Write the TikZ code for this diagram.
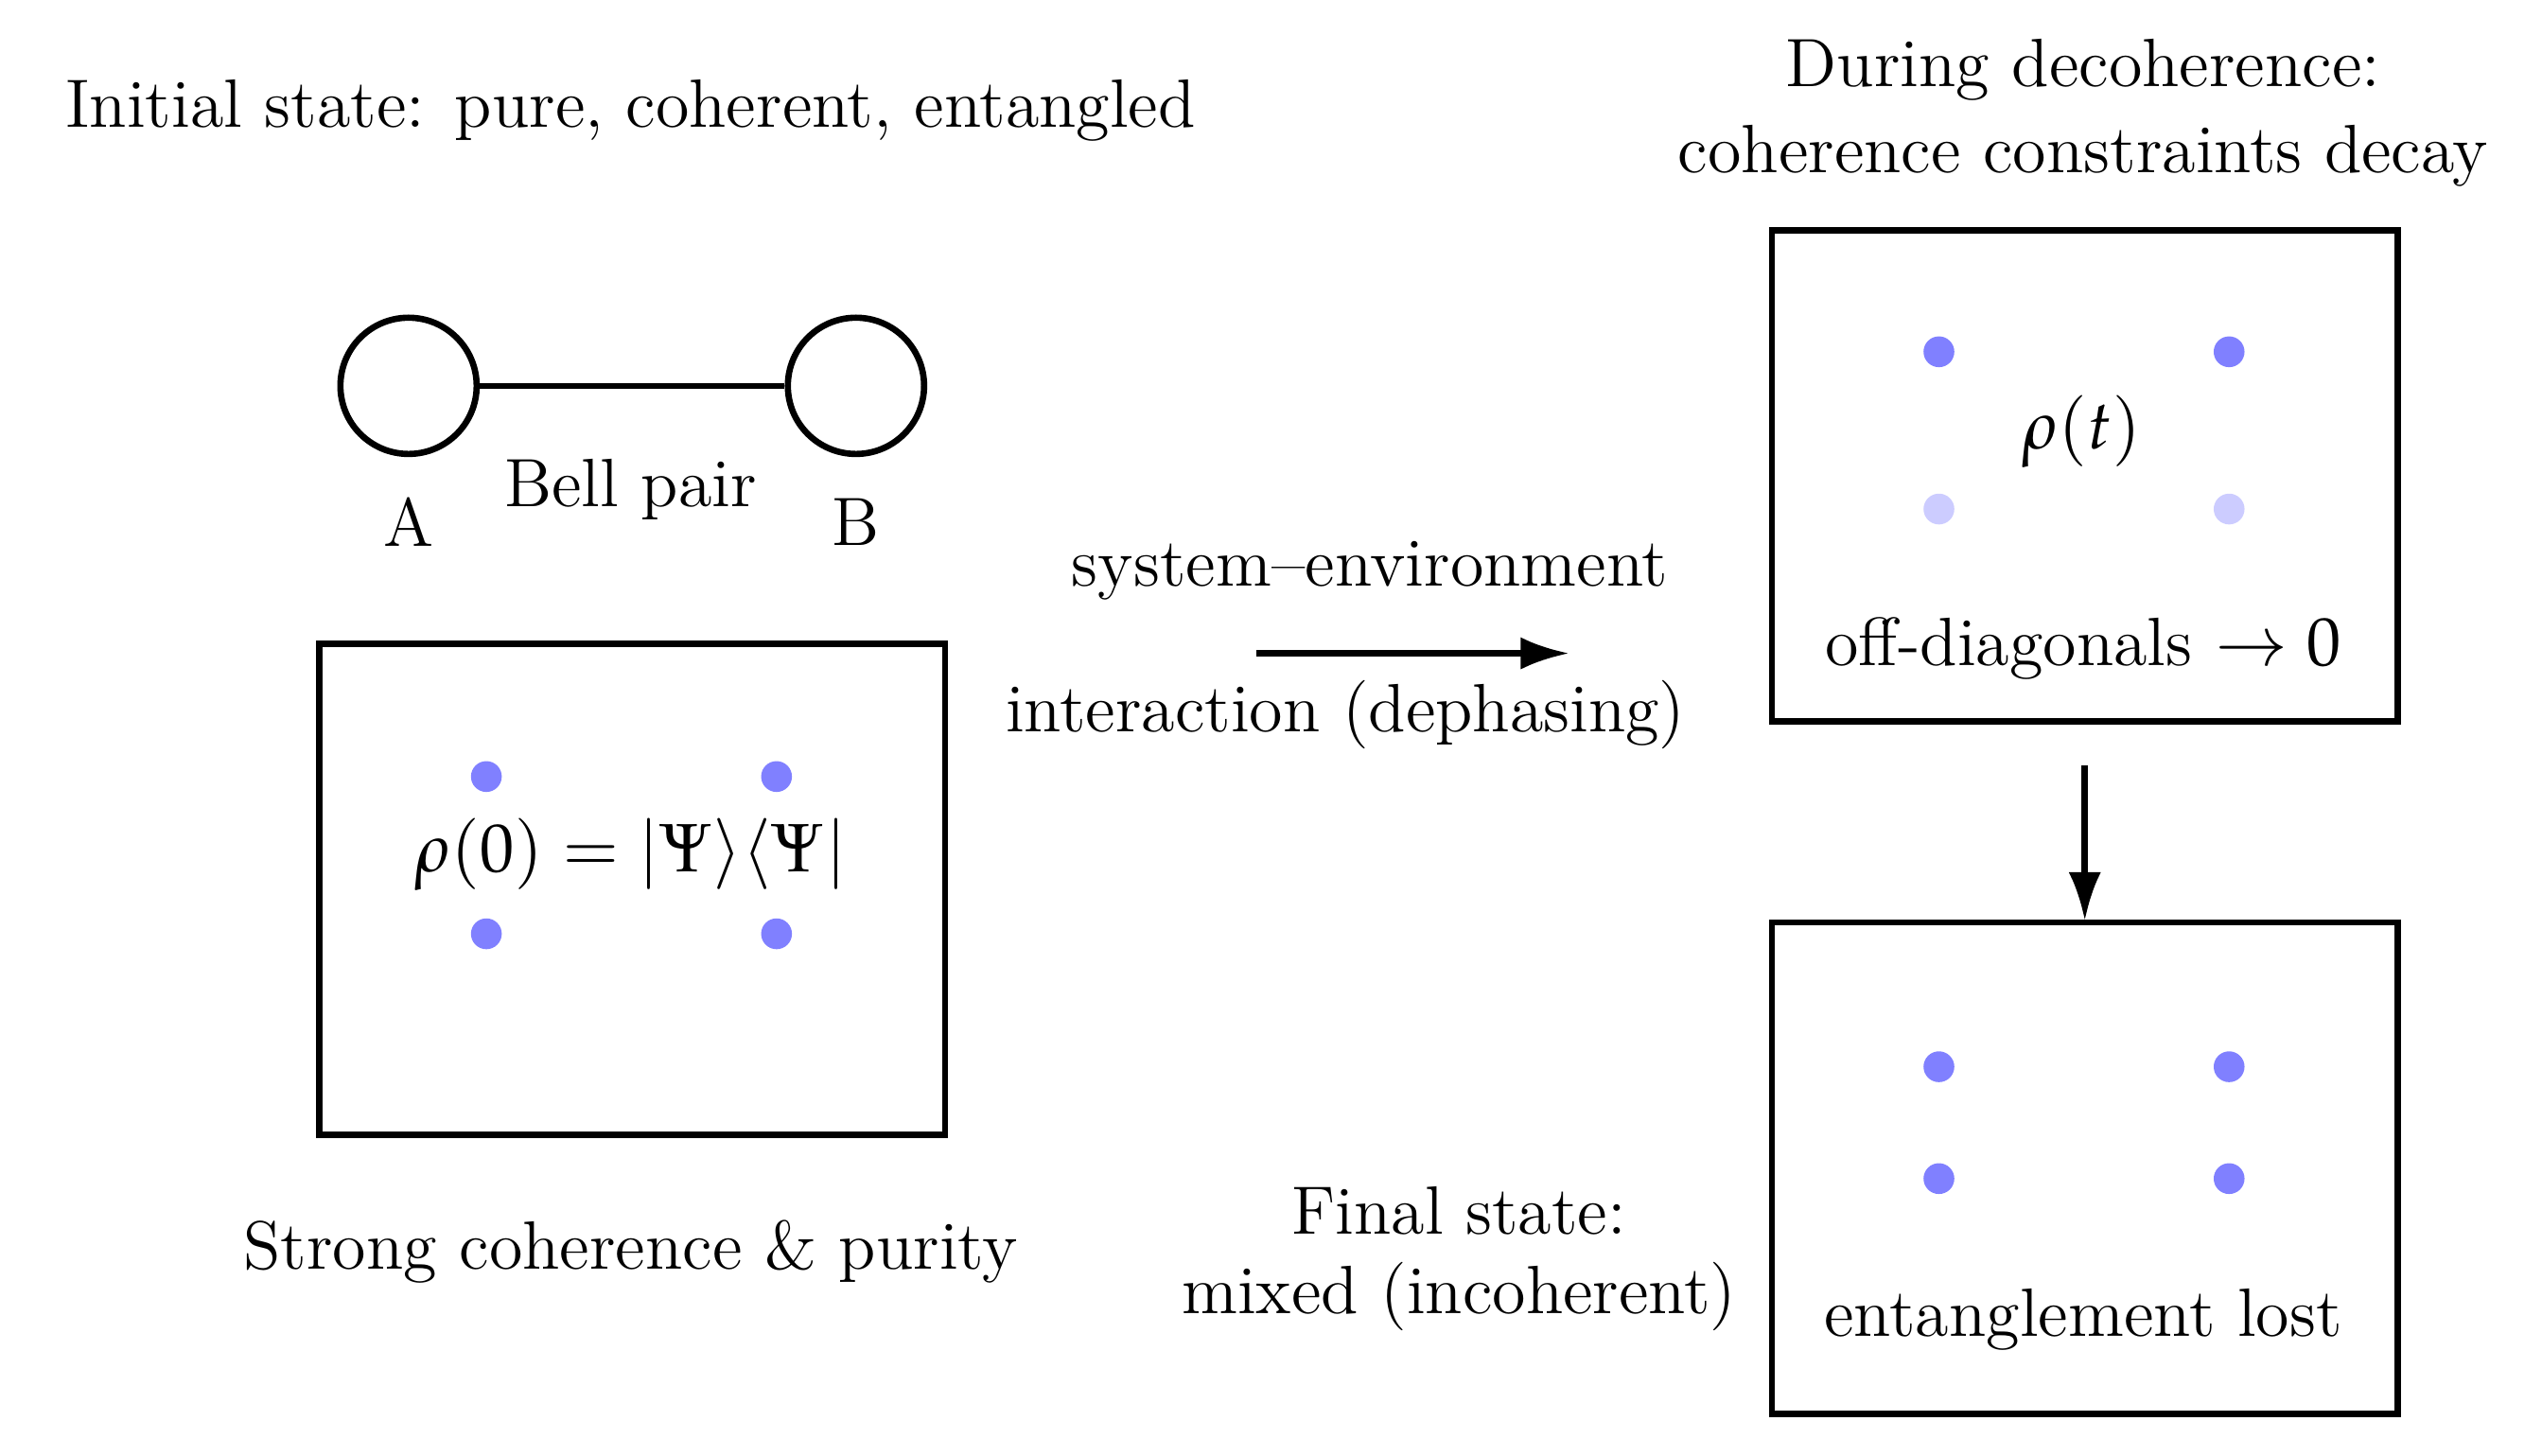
\documentclass[tikz,border=0pt]{standalone}
\usepackage{mathpazo}
\usetikzlibrary{arrows.meta}
\begin{document}
\begin{tikzpicture}[x=0.01cm,y=-0.01cm,
  box/.style={draw,line width=1.1pt},
  dot/.style={circle,fill=blue!50,inner sep=0pt,minimum size=0.19cm},
  ldot/.style={circle,fill=blue!20,inner sep=0pt,minimum size=0.19cm},
  lab/.style={font=\large,inner sep=0pt},
  arr/.style={line width=1.1pt,-{Latex[length=0.3cm,width=0.2cm]}}]
\useasboundingbox (0,0) rectangle (1568,898);
\node[lab] (t1) at (389,68) {Initial state: pure, coherent, entangled};
\node[draw,circle,line width=1.1pt,minimum size=0.84cm] (A) at (252,238) {};
\node[draw,circle,line width=1.1pt,minimum size=0.84cm] (B) at (528,238) {};
\draw[line width=1.1pt] (A) -- (B);
\node[lab] (la) at (252,322) {A};
\node[lab] (lb) at (528,322) {B};
\node[lab] (bp) at (389,302) {Bell pair};
\draw[box] (197,397) rectangle (583,700);
\node[dot] at (300,479) {}; \node[dot] at (479,479) {};
\node[dot] at (300,576) {}; \node[dot] at (479,576) {};
\node[lab] (r0) at (389,527) {$\rho(0)=|\Psi\rangle\langle\Psi|$};
\node[lab] (sc) at (389,772) {Strong coherence \& purity};
\coordinate (a1) at (775,403); \coordinate (a2) at (968,403);
\draw[arr] (a1) -- (a2);
\node[lab] (se) at (845,352) {system--environment};
\node[lab] (id) at (830,441) {interaction (dephasing)};
\node[lab] (t2) at (1285,43) {During decoherence:};
\node[lab] (t3) at (1285,96) {coherence constraints decay};
\draw[box] (1093,142) rectangle (1479,445);
\node[dot] at (1196,217) {}; \node[dot] at (1375,217) {};
\node[ldot] at (1196,314) {}; \node[ldot] at (1375,314) {};
\node[lab] (rt) at (1284,266) {$\rho(t)$};
\node[lab] (od) at (1285,400) {off-diagonals $\to 0$};
\coordinate (d1) at (1286,472); \coordinate (d2) at (1286,568);
\draw[arr] (d1) -- (d2);
\draw[box] (1093,569) rectangle (1479,872);
\node[dot] at (1196,658) {}; \node[dot] at (1375,658) {};
\node[dot] at (1196,727) {}; \node[dot] at (1375,727) {};
\node[lab] (el) at (1285,814) {entanglement lost};
\node[lab] (f1) at (900,747) {Final state:};
\node[lab] (f2) at (900,800) {mixed (incoherent)};
\end{tikzpicture}
\end{document}
